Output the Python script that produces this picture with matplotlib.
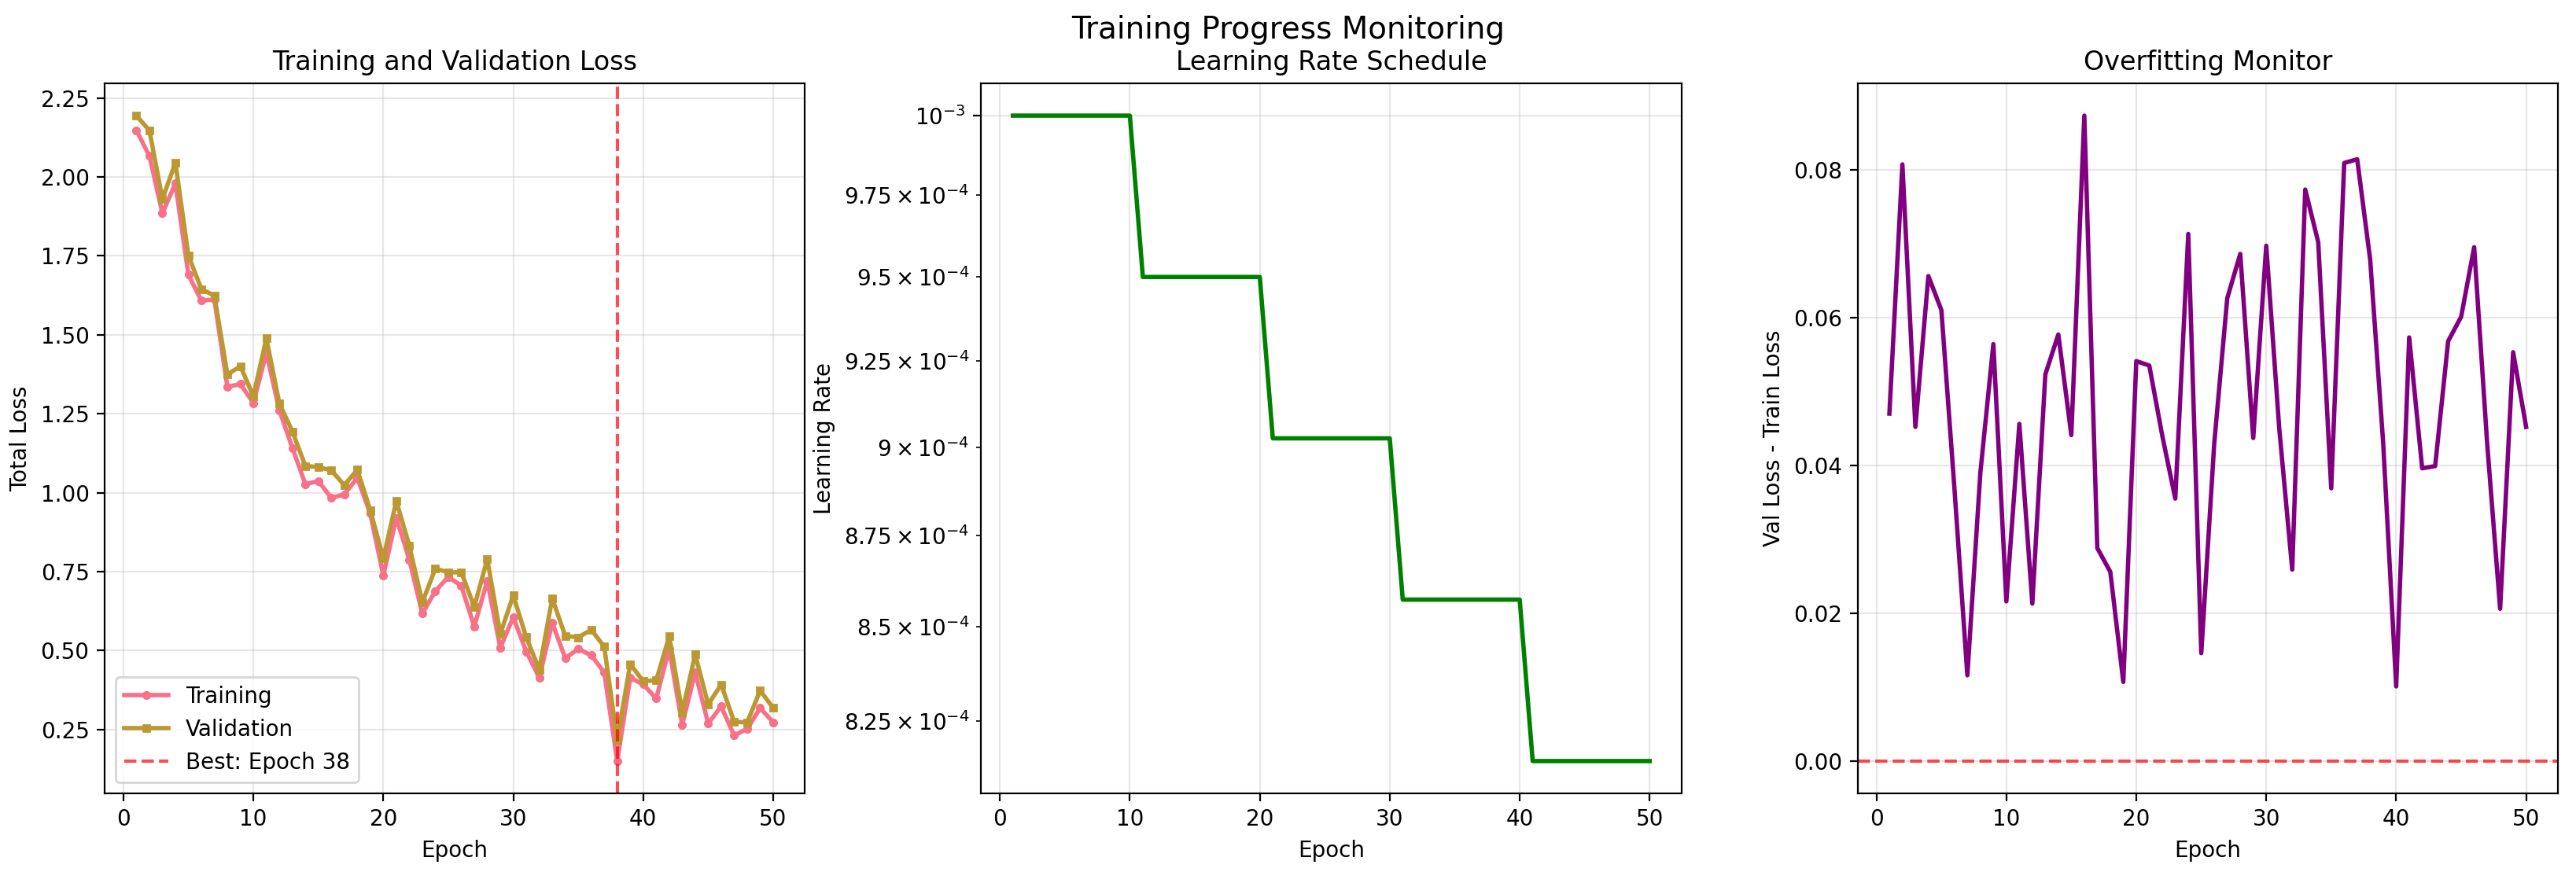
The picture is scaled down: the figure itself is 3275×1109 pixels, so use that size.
import numpy as np
import matplotlib
matplotlib.use('Agg')
import matplotlib.pyplot as plt

epochs = list(range(1, 51))

train_loss = [2.147, 2.066, 1.885, 1.979, 1.690, 1.608, 1.612, 1.335, 1.344, 1.284,
              1.443, 1.261, 1.142, 1.027, 1.037, 0.983, 0.995, 1.047, 0.933, 0.738,
              0.920, 0.788, 0.617, 0.688, 0.733, 0.705, 0.576, 0.721, 0.509, 0.605,
              0.497, 0.414, 0.588, 0.476, 0.505, 0.485, 0.431, 0.150, 0.414, 0.393,
              0.348, 0.505, 0.265, 0.431, 0.269, 0.323, 0.231, 0.252, 0.318, 0.273]

val_loss = [2.1940, 2.1467, 1.9302, 2.0446, 1.7510, 1.6450, 1.6236, 1.3740, 1.4004, 1.3056,
            1.4886, 1.2823, 1.1943, 1.0847, 1.0811, 1.0703, 1.0238, 1.0726, 0.9437, 0.7921,
            0.9735, 0.8320, 0.6525, 0.7593, 0.7476, 0.7480, 0.6386, 0.7896, 0.5527, 0.6747,
            0.5420, 0.4399, 0.6653, 0.5462, 0.5419, 0.5659, 0.5124, 0.2178, 0.4570, 0.4031,
            0.4053, 0.5446, 0.3049, 0.4878, 0.3291, 0.3925, 0.2740, 0.2726, 0.3733, 0.3182]

# step schedule
lr = [1.0e-3] * 10 + [9.5e-4] * 10 + [9.025e-4] * 10 + [8.574e-4] * 10 + [8.145e-4] * 10

best_epoch = 38

train_color = '#f77189'
val_color = '#bb9832'

fig, axes = plt.subplots(1, 3, figsize=(16.375, 5.545), dpi=200)
fig.subplots_adjust(left=0.0406, right=0.993, bottom=0.0902, top=0.9044, wspace=0.2514)

## loss curves
ax = axes[0]
ax.plot(epochs, train_loss, 'o-', color=train_color, label='Training', linewidth=2, markersize=3)
ax.plot(epochs, val_loss, 's-', color=val_color, label='Validation', linewidth=2, markersize=3)
ax.axvline(best_epoch, color='red', linestyle='--', alpha=0.7, label=f'Best: Epoch {best_epoch}')
ax.set_xlabel('Epoch')
ax.set_ylabel('Total Loss')
ax.set_title('Training and Validation Loss')
ax.legend(loc='lower left')
ax.grid(True, alpha=0.3)

## learning rate
ax = axes[1]
ax.plot(epochs, lr, color='green', linewidth=2)
ax.set_yscale('log')
ax.set_xlabel('Epoch')
ax.set_ylabel('Learning Rate')
ax.set_title('Learning Rate Schedule')
ax.grid(True, alpha=0.3)

## overfitting gap
ax = axes[2]
gap = np.array(val_loss) - np.array(train_loss)
ax.plot(epochs, gap, color='purple', linewidth=2)
ax.axhline(0, color='red', linestyle='--', alpha=0.7)
ax.set_xlabel('Epoch')
ax.set_ylabel('Val Loss - Train Loss')
ax.set_title('Overfitting Monitor')
ax.grid(True, alpha=0.3)

fig.suptitle('Training Progress Monitoring', fontsize=14, y=0.966, va='center')

plt.savefig('out.png', dpi=200)
